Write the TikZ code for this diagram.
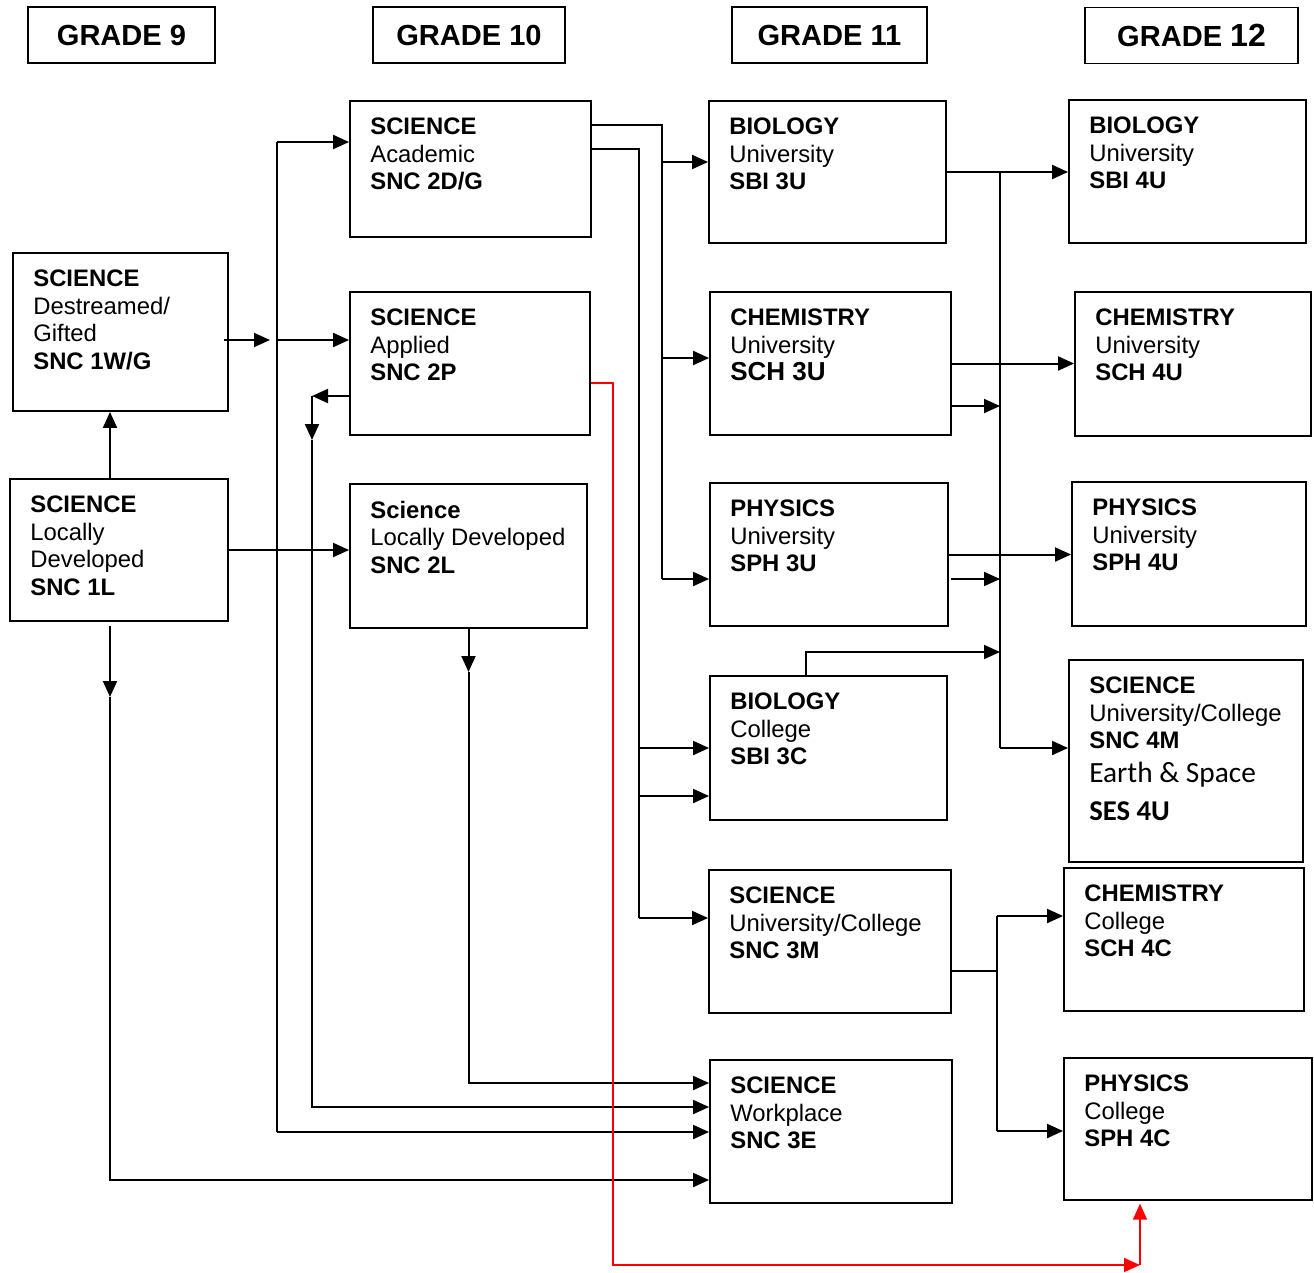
\documentclass[tikz,border=0pt]{standalone}
\usepackage{fontspec}
\setmainfont{Liberation Sans}
\newfontfamily\calibrifont{Carlito}
\usetikzlibrary{arrows.meta}

\tikzset{
  grade/.style={draw,line width=1.4pt,font=\fontsize{21.8}{24}\selectfont\bfseries},
  course/.style={draw,line width=1.4pt},
  info/.style={anchor=north west,inner sep=0pt,align=left,xshift=15.75pt,yshift=-13.2pt,font=\fontsize{17.9}{20.6}\selectfont},
  link/.style={line width=1.5pt},
  arr/.style={line width=1.5pt,-{Triangle[length=12pt,width=10.5pt]}},
  redarr/.style={red,line width=1.2pt,-{Triangle[length=12pt,width=10.5pt]}}
}

\begin{document}
\begin{tikzpicture}[x=0.75pt,y=-0.75pt]
   \useasboundingbox (0,0) rectangle (1314,1272);

   % grade headers
   \node[grade,minimum width=140.25pt,minimum height=42pt] (gr9) at (121.5,35) {GRADE 9};
   \node[grade,minimum width=144pt,minimum height=42pt] (gr10) at (469,35) {GRADE 10};
   \node[grade,minimum width=146.25pt,minimum height=42pt] (gr11) at (829.5,35) {GRADE 11};
   \node[grade,minimum width=159.75pt,minimum height=42pt] (gr12) at (1191.5,35.5) {GRADE {\fontsize{24}{24}\selectfont 12}};

   % grade 9
   \node[course,minimum width=161.25pt,minimum height=118.5pt,
     label={[info]north west:{\textbf{SCIENCE}\\Destreamed/\\Gifted\\\textbf{SNC 1W/G}}}] (snc1w) at (120.5,332) {};
   \node[course,minimum width=163.5pt,minimum height=106.5pt,
     label={[info]north west:{\textbf{SCIENCE}\\Locally\\Developed\\\textbf{SNC 1L}}}] (snc1l) at (119,550) {};

   % grade 10
   \node[course,minimum width=180.75pt,minimum height=102pt,
     label={[info]north west:{\textbf{SCIENCE}\\Academic\\\textbf{SNC 2D/G}}}] (snc2d) at (470.5,169) {};
   \node[course,minimum width=180pt,minimum height=107.25pt,
     label={[info]north west:{\textbf{SCIENCE}\\Applied\\\textbf{SNC 2P}}}] (snc2p) at (470,363.5) {};
   \node[course,minimum width=177.75pt,minimum height=108pt,
     label={[info]north west:{\textbf{Science}\\Locally Developed\\\textbf{SNC 2L}}}] (snc2l) at (468.5,556) {};

   % grade 11
   \node[course,minimum width=177.75pt,minimum height=106.5pt,
     label={[info]north west:{\textbf{BIOLOGY}\\University\\\textbf{SBI 3U}}}] (sbi3u) at (827.5,172) {};
   \node[course,minimum width=180.75pt,minimum height=107.25pt,
     label={[info]north west:{\textbf{CHEMISTRY}\\University\\{\fontsize{19.5}{20.6}\selectfont\bfseries SCH 3U}}}] (sch3u) at (830.5,363.5) {};
   \node[course,minimum width=178.5pt,minimum height=107.25pt,
     label={[info]north west:{\textbf{PHYSICS}\\University\\\textbf{SPH 3U}}}] (sph3u) at (829,554.5) {};
   \node[course,minimum width=177.75pt,minimum height=108pt,
     label={[info]north west:{\textbf{BIOLOGY}\\College\\\textbf{SBI 3C}}}] (sbi3c) at (828.5,748) {};
   \node[course,minimum width=181.5pt,minimum height=107.25pt,
     label={[info]north west:{\textbf{SCIENCE}\\University/College\\\textbf{SNC 3M}}}] (snc3m) at (830,941.5) {};
   \node[course,minimum width=181.5pt,minimum height=107.25pt,
     label={[info]north west:{\textbf{SCIENCE}\\Workplace\\\textbf{SNC 3E}}}] (snc3e) at (831,1131.5) {};

   % grade 12
   \node[course,minimum width=177.75pt,minimum height=107.25pt,
     label={[info]north west:{\textbf{BIOLOGY}\\University\\\textbf{SBI 4U}}}] (sbi4u) at (1187.5,171.5) {};
   \node[course,minimum width=177pt,minimum height=108pt,
     label={[info]north west:{\textbf{CHEMISTRY}\\University\\\textbf{SCH 4U}}}] (sch4u) at (1193,364) {};
   \node[course,minimum width=175.5pt,minimum height=108pt,
     label={[info]north west:{\textbf{PHYSICS}\\University\\\textbf{SPH 4U}}}] (sph4u) at (1189,554) {};
   \node[course,minimum width=175.5pt,minimum height=151.5pt,
     label={[info]north west:{\textbf{SCIENCE}\\University/College\\\textbf{SNC 4M}\\[5pt]{\calibrifont\fontsize{22}{24}\selectfont Earth \& Space}\\[7.5pt]{\calibrifont\fontsize{21.5}{24}\selectfont\bfseries SES 4U}}}] (snc4m) at (1186,761) {};
   \node[course,minimum width=180pt,minimum height=107.25pt,
     label={[info]north west:{\textbf{CHEMISTRY}\\College\\\textbf{SCH 4C}}}] (sch4c) at (1184,939.5) {};
   \node[course,minimum width=186pt,minimum height=106.5pt,
     label={[info]north west:{\textbf{PHYSICS}\\College\\\textbf{SPH 4C}}}] (sph4c) at (1188,1129) {};

   % junction points
   \coordinate (c9) at (270,340);
   \coordinate (t1) at (277,142);
   \coordinate (t2) at (277,340);
   \coordinate (t3) at (277,1132);
   \coordinate (d1) at (110,697);
   \coordinate (d2) at (110,1180);
   \coordinate (p1) at (312,396);
   \coordinate (p2) at (312,440);
   \coordinate (p3) at (312,1107);
   \coordinate (l1) at (468.5,672);
   \coordinate (l2) at (468.5,1083);
   \coordinate (u1) at (662,125);
   \coordinate (u2) at (662,162);
   \coordinate (u3) at (662,358);
   \coordinate (u4) at (662,579);
   \coordinate (m1) at (639,149);
   \coordinate (m2) at (639,748);
   \coordinate (m3) at (639,796);
   \coordinate (m4) at (639,918);
   \coordinate (r1) at (613,383);
   \coordinate (r2) at (613,1265);
   \coordinate (r3) at (1140,1265);
   \coordinate (v1) at (1000,172);
   \coordinate (v2) at (1000,406);
   \coordinate (v3) at (1000,579);
   \coordinate (v4) at (1000,652);
   \coordinate (v5) at (1000,748);
   \coordinate (w0) at (997,971);
   \coordinate (w1) at (997,916);
   \coordinate (w2) at (997,1131);

   % grade 9 to grade 10
   \draw[arr] ([xshift=-6.75pt]snc1l.north) -- ([xshift=-6.75pt]snc1l.north |- snc1w.south);
   \draw[arr] ([xshift=-3.75pt]snc1w.east |- c9) -- (c9);
   \draw[link] (t1) -- (t3);
   \draw[arr] (t1) -- (t1 -| snc2d.west);
   \draw[arr] (t2) -- (t2 -| snc2p.west);
   \draw[arr] (t3) -- (t3 -| snc3e.west);
   \draw[arr] (snc1l.east) -- (snc1l.east -| snc2l.west);
   \draw[arr] ([xshift=-6.75pt,yshift=-3pt]snc1l.south) -- (d1);
   \draw[arr] (d1) -- (d2) -- (d2 -| snc3e.west);

   % grade 10 to grade 11
   \draw[arr] (snc2p.west |- p1) -- (p1);
   \draw[arr] (p1) -- (p2);
   \draw[arr] (p2) -- (p3) -- (p3 -| snc3e.west);
   \draw[arr] (snc2l.south) -- (l1);
   \draw[arr] (l1) -- (l2) -- (l2 -| snc3e.west);
   \draw[link] (snc2d.east |- u1) -- (u1) -- (u4);
   \draw[arr] (u2) -- (u2 -| sbi3u.west);
   \draw[arr] (u3) -- (u3 -| sch3u.west);
   \draw[arr] (u4) -- (u4 -| sph3u.west);
   \draw[link] (snc2d.east |- m1) -- (m1) -- (m4);
   \draw[arr] (m2) -- (m2 -| sbi3c.west);
   \draw[arr] (m3) -- (m3 -| sbi3c.west);
   \draw[arr] (m4) -- (m4 -| snc3m.west);
   \draw[redarr] (snc2p.east |- r1) -- (r1) -- (r2) -- (r3);
   \draw[redarr] (r3) -- ([yshift=-2pt]r3 |- sph4c.south);

   % grade 11 to grade 12
   \draw[link] (v1) -- (v5);
   \draw[arr] (sbi3u.east) -- (sbi3u.east -| sbi4u.west);
   \draw[arr] (sch3u.east) -- (sch3u.east -| sch4u.west);
   \draw[arr] (sch3u.east |- v2) -- (v2);
   \draw[arr] (sph3u.east) -- (sph3u.east -| sph4u.west);
   \draw[arr] ([xshift=1.5pt]sph3u.east |- v3) -- (v3);
   \draw[arr] ([xshift=-16.9pt]sbi3c.north) -- ([xshift=-16.9pt]sbi3c.north |- v4) -- (v4);
   \draw[arr] (v5) -- (v5 -| snc4m.west);
   \draw[link] ([xshift=-1.5pt]snc3m.east |- w0) -- (w0);
   \draw[link] (w1) -- (w2);
   \draw[arr] (w1) -- (w1 -| sch4c.west);
   \draw[arr] (w2) -- (w2 -| sph4c.west);
\end{tikzpicture}
\end{document}
